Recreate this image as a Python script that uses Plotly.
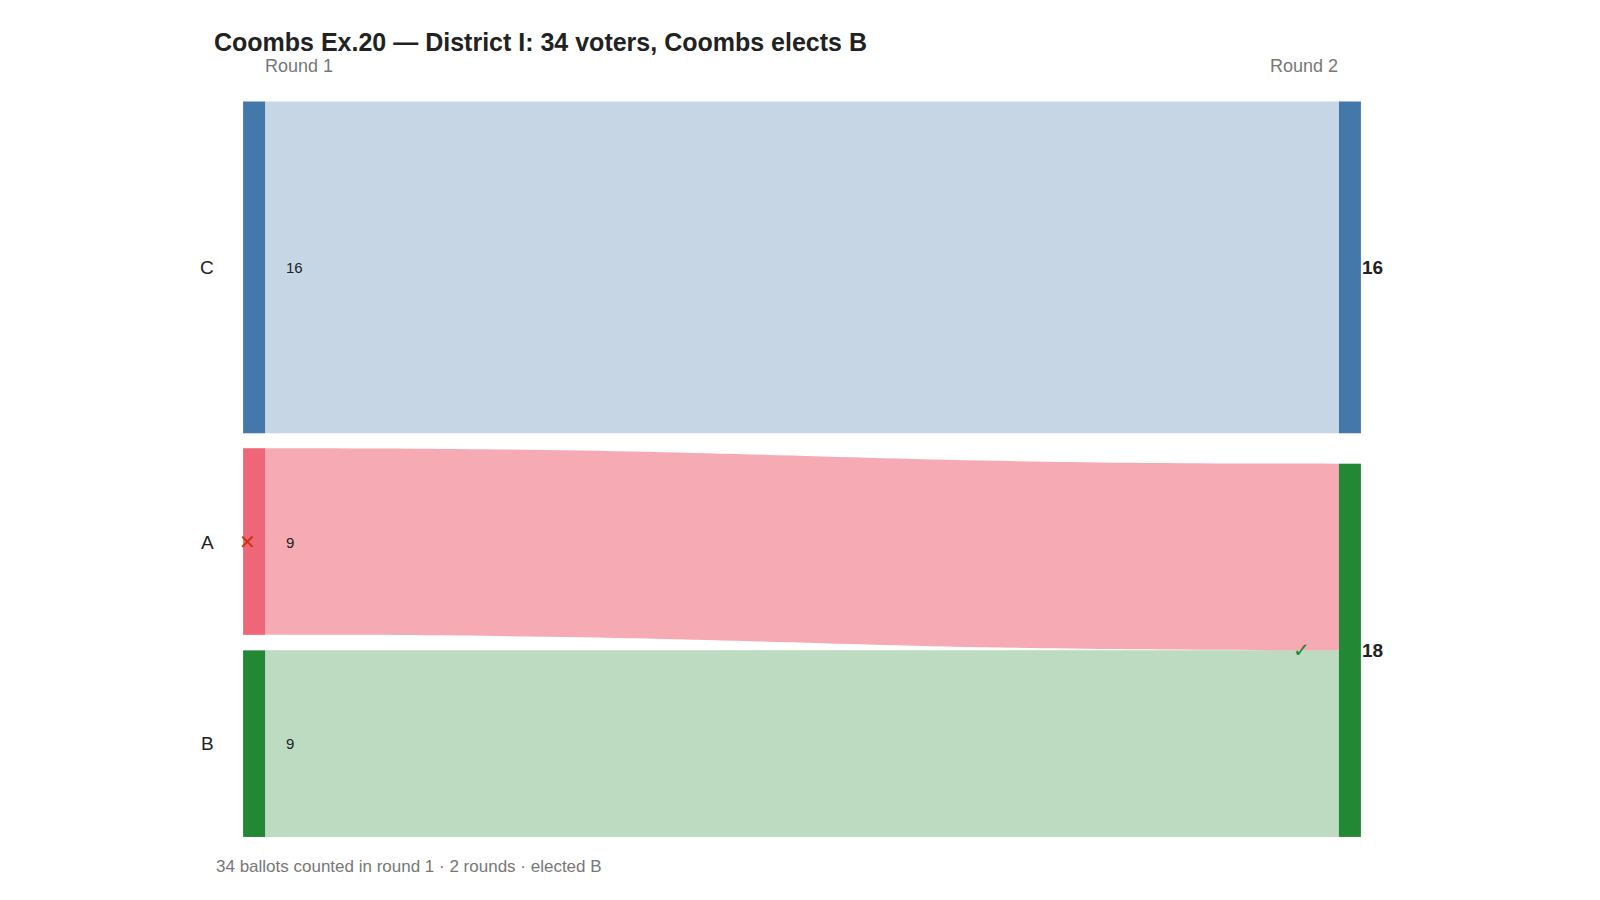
import plotly.graph_objects as go

candidates = ["C", "A", "B"]
round1_counts = [16, 9, 9]
round2_labels = ["C", "B"]
round2_counts = [16, 18]
link_source = [0, 1, 2]
link_target = [3, 4, 4]
link_values = [16, 9, 9]

node_colors = ["#4477AA", "#EE6677", "#228833", "#4477AA", "#228833"]
link_colors = ["rgba(68,119,170,0.3)", "rgba(238,102,119,0.55)", "rgba(34,136,51,0.3)"]

L, R, T, B = 245, 1343, 94, 829
W, H = R - L, B - T
def px(x): return (x - L) / W
def py(y): return 1 - (y - T) / H

fig = go.Figure(go.Sankey(
    arrangement="fixed",
    node=dict(label=[""] * 5, color=node_colors, thickness=22, pad=15,
              line=dict(width=0),
              x=[0.001, 0.001, 0.001, 0.999, 0.999],
              y=[0.225, 0.598, 0.873, 0.225, 0.746]),
    link=dict(source=link_source, target=link_target, value=link_values, color=link_colors),
    hoverinfo="none",
))

ann = []
f = "Liberation Sans"
r1_y = [259, 534, 735]
for c, n, y in zip(candidates, round1_counts, r1_y):
    ann.append(dict(x=px(208), y=py(y), text=c, xanchor="right", font=dict(size=19, color="#222")))
    ann.append(dict(x=px(276), y=py(y), text=str(n), xanchor="left", font=dict(size=15, color="#222")))
for n, y in zip(round2_counts, [259, 642]):
    ann.append(dict(x=px(1352), y=py(y), text=f"<b>{n}</b>", xanchor="left", font=dict(size=19, color="#222")))
ann.append(dict(x=px(229), y=py(534), text="✕", font=dict(size=20, color="#CC3311")))
ann.append(dict(x=px(1304), y=py(642), text="✓", font=dict(size=20, color="#228833")))
ann.append(dict(x=px(255), y=py(58), text="Round 1", font=dict(size=18, color="#777")))
ann.append(dict(x=px(1332), y=py(58), text="Round 2", font=dict(size=18, color="#777")))
ann.append(dict(x=px(206), y=py(858), text="34 ballots counted in round 1 · 2 rounds · elected B",
                xanchor="left", font=dict(size=17, color="#777")))
for a in ann:
    a.update(xref="paper", yref="paper", showarrow=False, yanchor="middle")
    a["font"]["family"] = f

fig.update_layout(
    width=1600, height=900, paper_bgcolor="white", plot_bgcolor="white",
    margin=dict(l=L, r=1600 - R, t=T, b=900 - B),
    font=dict(family=f),
    title=dict(text="<b>Coombs Ex.20 — District I: 34 voters, Coombs elects B</b>",
               x=206 / 1600, xanchor="left", y=1 - 34 / 900, yanchor="middle",
               font=dict(size=25, color="#222", family=f)),
    annotations=ann,
)
fig.write_html("out.html")
